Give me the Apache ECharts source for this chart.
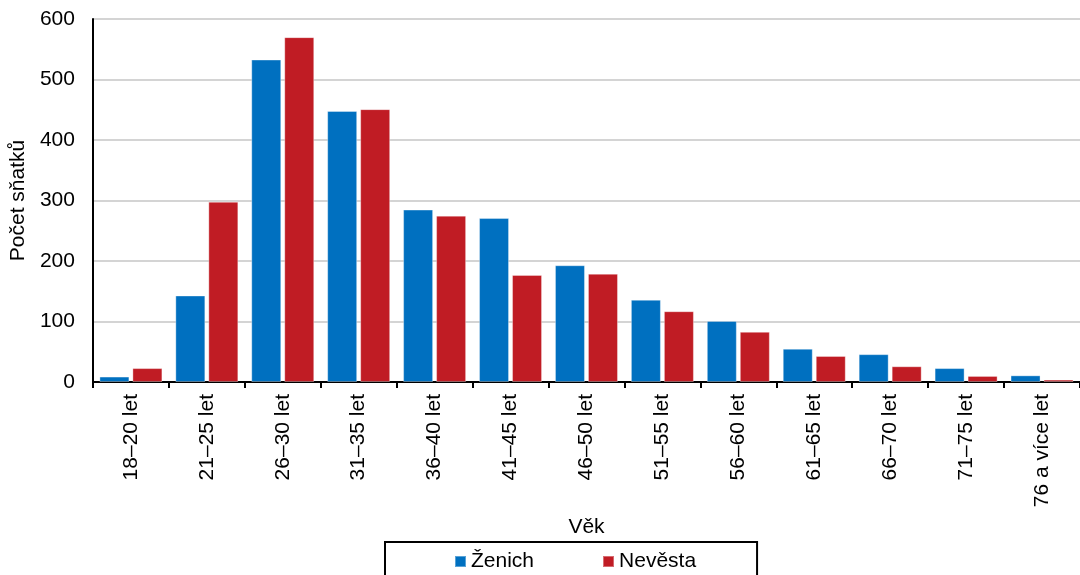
<!DOCTYPE html>
<html>
<head>
<meta charset="utf-8">
<script src="https://cdn.jsdelivr.net/npm/echarts@6/dist/echarts.min.js"></script>
<style>
  html, body { margin: 0; padding: 0; background: #fff; }
  #chart { width: 1080px; height: 575px; }
</style>
</head>
<body>
<div id="chart"></div>
<script>
const categories = [
  '18–20 let', '21–25 let', '26–30 let', '31–35 let', '36–40 let', '41–45 let',
  '46–50 let', '51–55 let', '56–60 let', '61–65 let', '66–70 let', '71–75 let',
  '76 a více let'
]
const zenich = [9, 143, 533, 448, 285, 271, 193, 136, 101, 55, 46, 23, 11]
const nevesta = [23, 298, 570, 451, 275, 177, 179, 117, 83, 43, 26, 10, 4]
const yTicks = [0, 100, 200, 300, 400, 500, 600]

const font = '"Liberation Sans", Arial, sans-serif'

const chart = echarts.init(document.getElementById('chart'))

const option = {
  animation: false,
  textStyle: { fontFamily: font, color: '#000' },
  grid: {
    left: 90,
    top: 19,
    width: 1001,
    height: 363
  },
  legend: {
    left: 385,
    top: 542,
    padding: [9, 61, 30, 69],
    itemGap: 68,
    itemWidth: 11,
    itemHeight: 11,
    icon: 'rect',
    borderColor: '#000',
    borderWidth: 2,
    textStyle: { fontFamily: font, fontSize: 21, color: '#000' },
    data: ['Ženich', 'Nevěsta']
  },
  xAxis: {
    type: 'category',
    data: categories,
    name: 'Věk',
    nameLocation: 'middle',
    nameGap: 135,
    nameTextStyle: { fontFamily: font, fontSize: 21, color: '#000' },
    axisLine: { lineStyle: { color: '#000', width: 2 } },
    axisTick: { show: true, length: 6, lineStyle: { color: '#000', width: 2 } },
    axisLabel: {
      rotate: 90,
      margin: 12,
      fontSize: 21,
      color: '#000',
      fontFamily: font,
      interval: 0
    }
  },
  yAxis: {
    type: 'value',
    min: yTicks[0],
    max: yTicks[yTicks.length - 1],
    interval: 100,
    name: 'Počet sňatků',
    nameLocation: 'middle',
    nameGap: 61,
    nameTextStyle: { fontFamily: font, fontSize: 21, color: '#000' },
    axisLine: { show: true, lineStyle: { color: '#000', width: 2 } },
    axisTick: { show: false },
    axisLabel: { fontSize: 21, color: '#000', fontFamily: font, margin: 18 },
    splitLine: { lineStyle: { color: '#c6c6c6', width: 1.5 } }
  },
  series: [
    {
      name: 'Ženich',
      type: 'bar',
      data: zenich,
      barWidth: 30,
      barGap: '10%',
      itemStyle: { color: '#0070c0', borderColor: 'rgba(255,255,255,0.35)', borderWidth: 1 }
    },
    {
      name: 'Nevěsta',
      type: 'bar',
      data: nevesta,
      barWidth: 30,
      barGap: '10%',
      itemStyle: { color: '#c01c24', borderColor: 'rgba(255,255,255,0.35)', borderWidth: 1 }
    }
  ]
}

chart.setOption(option)
</script>
</body>
</html>
